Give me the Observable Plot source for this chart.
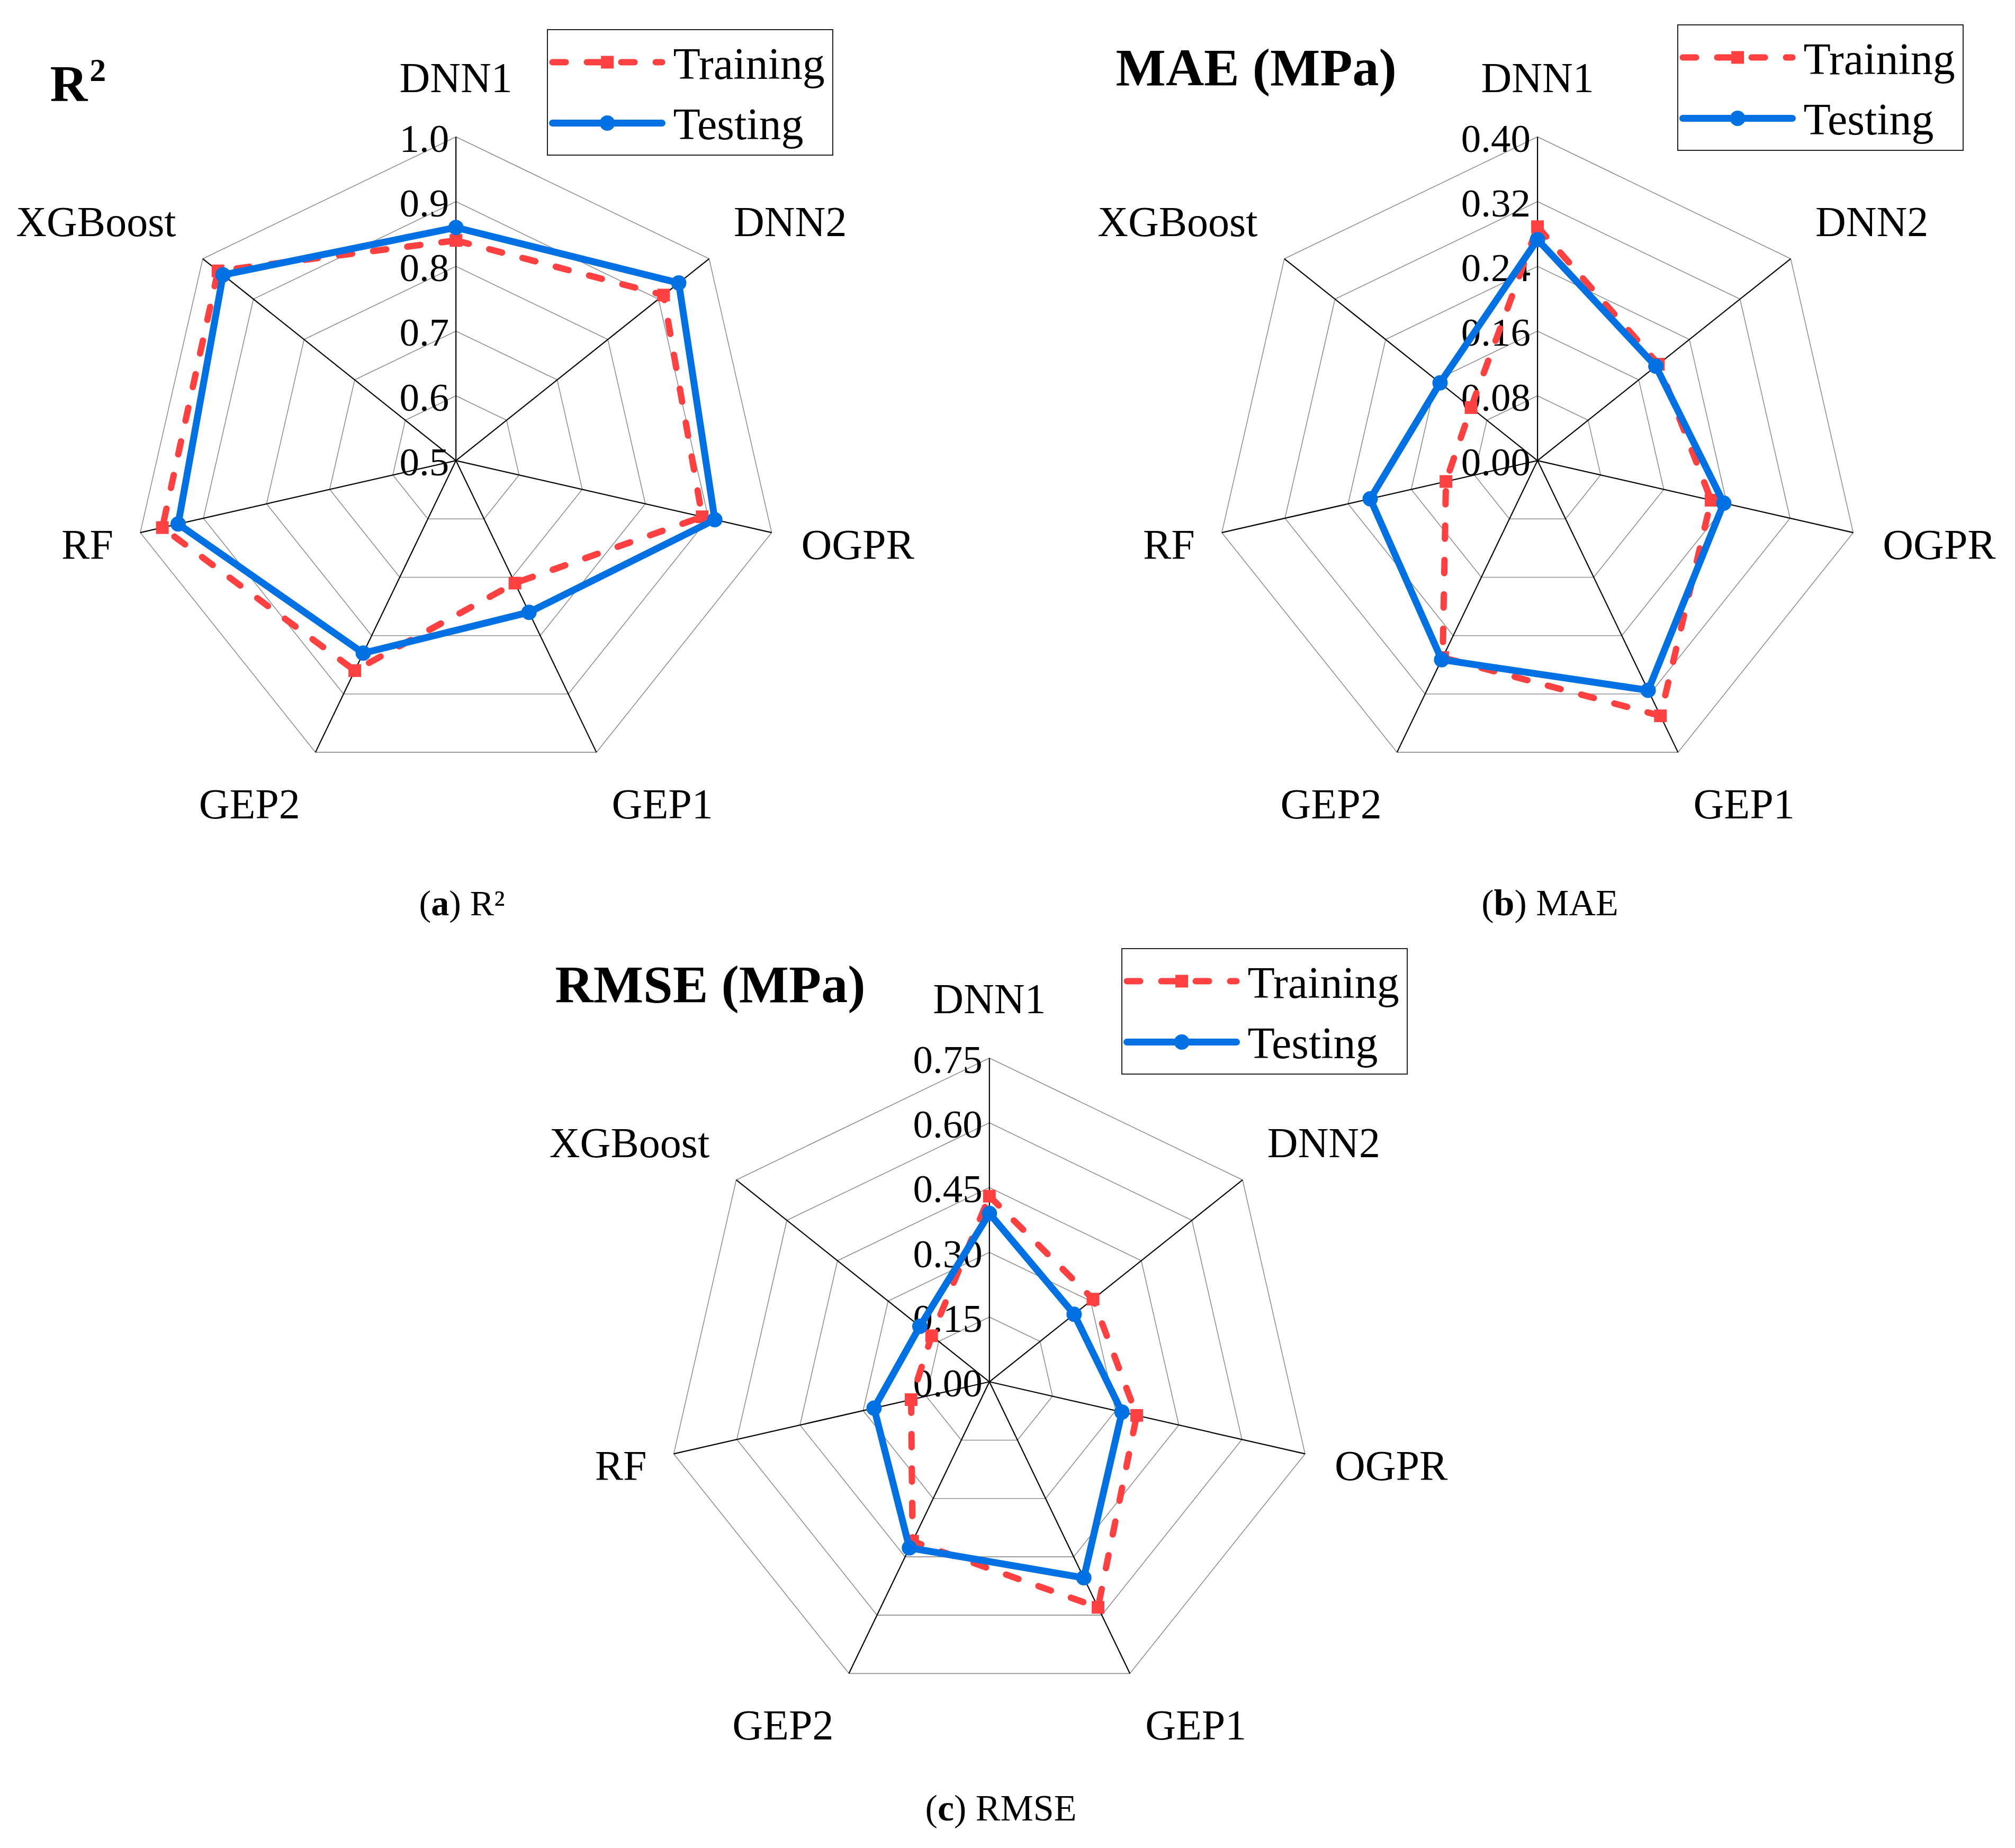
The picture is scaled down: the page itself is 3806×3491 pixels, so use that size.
<!DOCTYPE html>
<html>
<head>
<meta charset="utf-8">
<script src="https://cdn.jsdelivr.net/npm/d3@7"></script>
<script src="https://cdn.jsdelivr.net/npm/@observablehq/plot@0.6"></script>
<style>
  html, body { margin: 0; padding: 0; background: #ffffff; }
  #chart svg { display: block; }
</style>
</head>
<body>
<div id="chart"></div>
<script>
// ---------------- data ----------------
const categories = ["DNN1", "DNN2", "OGPR", "GEP1", "GEP2", "RF", "XGBoost"];
const seriesNames = ["Training", "Testing"];

const r2Training = [0.84, 0.91, 0.89, 0.71, 0.86, 0.965, 0.97];
const r2Testing  = [0.86, 0.94, 0.91, 0.76, 0.83, 0.94, 0.96];
const r2Ticks    = [0.5, 0.6, 0.7, 0.8, 0.9, 1.0];

const maeTraining = [0.289, 0.191, 0.22, 0.35, 0.27, 0.116, 0.105];
const maeTesting  = [0.273, 0.187, 0.236, 0.315, 0.273, 0.212, 0.154];
const maeTicks    = [0.00, 0.08, 0.16, 0.24, 0.32, 0.40];

const rmseTraining = [0.43, 0.307, 0.35, 0.58, 0.41, 0.186, 0.171];
const rmseTesting  = [0.39, 0.251, 0.315, 0.504, 0.427, 0.274, 0.206];
const rmseTicks    = [0.00, 0.15, 0.30, 0.45, 0.60, 0.75];

const panelTitles   = ["R²", "MAE (MPa)", "RMSE (MPa)"];
const panelLetters  = ["a", "b", "c"];
const panelCaptions = [" R²", " MAE", " RMSE"];

// ---------------- layout ----------------
const W = 3806, H = 3491, R = 611.6;
const FONT = "'Liberation Serif', 'Times New Roman', serif";
const RED = "#ff4040", BLUE = "#0071e3";

const layout = [
  {cx: 860.7,  cy: 869.6,  title: [94, 190],   titleSize: 98,  legend: [1034, 56],  caption: [872, 1728],  capSize: 68, digits: 1},
  {cx: 2903.6, cy: 869.6,  title: [2107, 160], titleSize: 100, legend: [3169, 47],  caption: [2927, 1728], capSize: 70, digits: 2},
  {cx: 1868.3, cy: 2609.8, title: [1048, 1892],titleSize: 100, legend: [2119, 1792],caption: [1890, 3438], capSize: 70, digits: 2}
];
const panelData = [
  {training: r2Training, testing: r2Testing, ticks: r2Ticks},
  {training: maeTraining, testing: maeTesting, ticks: maeTicks},
  {training: rmseTraining, testing: rmseTesting, ticks: rmseTicks}
];

const ctx = document.createElement("canvas").getContext("2d");
ctx.font = `80px 'Liberation Serif'`;
const measure = t => ctx.measureText(t).width;

const TAU = 2 * Math.PI, N = categories.length;
const rings = [], spokes = [], tickLabels = [], catLabels = [];
const trainPts = [], testPts = [], titles = [], captions = [];
const legBoxes = [], legTrain = [], legTest = [], legTrainMk = [], legTestMk = [], legTexts = [];

panelData.forEach((p, pi) => {
  const L = layout[pi];
  const rScale = d3.scaleLinear().domain([p.ticks[0], p.ticks[p.ticks.length - 1]]).range([0, R]);
  const pos = (k, v) => {
    const a = k * TAU / N, r = rScale(v);
    return {x: L.cx + r * Math.sin(a), y: L.cy - r * Math.cos(a)};
  };
  p.ticks.forEach((t, i) => {
    if (i > 0) categories.forEach((c, k) => rings.push({ring: `${pi}-${i}`, ...pos(k, t)}));
    tickLabels.push({text: t.toFixed(L.digits), x: L.cx - 13, y: pos(0, t).y + 4});
  });
  categories.forEach((c, k) => {
    const e = pos(k, p.ticks[p.ticks.length - 1]);
    spokes.push({x1: L.cx, y1: L.cy, x2: e.x, y2: e.y});
    const a = k * TAU / N, ux = Math.sin(a), uy = -Math.cos(a);
    const hw = measure(c) / 2;
    catLabels.push({
      text: c,
      x: e.x + ux * 48 + (Math.abs(ux) > 0.01 ? Math.sign(ux) * hw * 1.086 : 0),
      y: e.y + uy * 110
    });
    trainPts.push({key: `${pi}-train`, series: seriesNames[0], cat: c, value: p.training[k], ...pos(k, p.training[k])});
    testPts.push({key: `${pi}-test`, series: seriesNames[1], cat: c, value: p.testing[k], ...pos(k, p.testing[k])});
  });
  titles.push({text: panelTitles[pi], x: L.title[0], y: L.title[1], size: L.titleSize});
  captions.push({text: `(${panelLetters[pi]})${panelCaptions[pi]}`, x: L.caption[0], y: L.caption[1], size: L.capSize});
  const [bx, by] = L.legend;
  legBoxes.push({x1: bx, x2: bx + 539, y1: by, y2: by + 237});
  legTrain.push({key: pi, x: bx + 9, y: by + 61}, {key: pi, x: bx + 216, y: by + 61});
  legTest.push({key: pi, x: bx + 9, y: by + 176}, {key: pi, x: bx + 216, y: by + 176});
  legTrainMk.push({x: bx + 112.6, y: by + 61});
  legTestMk.push({x: bx + 112.6, y: by + 176});
  legTexts.push({text: seriesNames[0], x: bx + 237, y: by + 92});
  legTexts.push({text: seriesNames[1], x: bx + 237, y: by + 206});
});

const chart = Plot.plot({
  width: W,
  height: H,
  margin: 0,
  x: {domain: [0, W], range: [0, W], axis: null},
  y: {domain: [0, H], range: [0, H], axis: null},
  style: {background: "#ffffff", fontFamily: FONT, color: "#000"},
  marks: [
    Plot.line(rings, {x: "x", y: "y", z: "ring", curve: "linear-closed", stroke: "#8f8f8f", strokeWidth: 1.6}),
    Plot.link(spokes, {x1: "x1", y1: "y1", x2: "x2", y2: "y2", stroke: "#000", strokeWidth: 2.2}),
    Plot.text(tickLabels, {x: "x", y: "y", text: "text", textAnchor: "end", lineAnchor: "middle", fontSize: 75, fontFamily: FONT, fill: "#000"}),
    Plot.text(catLabels, {x: "x", y: "y", text: "text", textAnchor: "middle", lineAnchor: "middle", fontSize: 80, fontFamily: FONT, fill: "#000"}),
    Plot.line(trainPts, {x: "x", y: "y", z: "key", curve: "linear-closed", stroke: RED, strokeWidth: 12, strokeDasharray: "25,40", strokeLinecap: "round", strokeLinejoin: "round"}),
    Plot.dot(trainPts, {x: "x", y: "y", symbol: "square", r: 13.5, fill: RED, stroke: "none"}),
    Plot.line(testPts, {x: "x", y: "y", z: "key", curve: "linear-closed", stroke: BLUE, strokeWidth: 13, strokeLinecap: "round", strokeLinejoin: "round"}),
    Plot.dot(testPts, {x: "x", y: "y", symbol: "circle", r: 14.5, fill: BLUE, stroke: "none"}),
    Plot.text(titles, {x: "x", y: "y", text: "text", textAnchor: "start", lineAnchor: "bottom", fontSize: d => d.size, fontWeight: "bold", fontFamily: FONT, fill: "#000"}),
    Plot.rect(legBoxes, {x1: "x1", x2: "x2", y1: "y1", y2: "y2", fill: "#fff", stroke: "#222", strokeWidth: 2}),
    Plot.line(legTrain, {x: "x", y: "y", z: "key", stroke: RED, strokeWidth: 12, strokeDasharray: "25,40", strokeLinecap: "round"}),
    Plot.dot(legTrainMk, {x: "x", y: "y", symbol: "square", r: 13.5, fill: RED, stroke: "none"}),
    Plot.line(legTest, {x: "x", y: "y", z: "key", stroke: BLUE, strokeWidth: 13, strokeLinecap: "round"}),
    Plot.dot(legTestMk, {x: "x", y: "y", symbol: "circle", r: 14.5, fill: BLUE, stroke: "none"}),
    Plot.text(legTexts, {x: "x", y: "y", text: "text", textAnchor: "start", lineAnchor: "bottom", fontSize: 84, fontFamily: FONT, fill: "#000"}),
    Plot.text(captions, {x: "x", y: "y", text: "text", textAnchor: "middle", lineAnchor: "bottom", fontSize: d => d.size, fontFamily: FONT, fill: "#000"})
  ]
});

document.getElementById("chart").appendChild(chart);

// rich text fix-ups: bold caption letters, real superscript in the R² title
const NS = "http://www.w3.org/2000/svg";
const span = (s, attrs = {}) => {
  const ts = document.createElementNS(NS, "tspan");
  ts.textContent = s;
  for (const [k, v] of Object.entries(attrs)) ts.setAttribute(k, v);
  return ts;
};
chart.querySelectorAll("text").forEach(t => {
  if (t.children.length) return;
  const txt = t.textContent;
  const m = /^\(([abc])\)(.*)$/.exec(txt);
  if (m) {
    t.textContent = "";
    t.appendChild(span("("));
    t.appendChild(span(m[1], {"font-weight": "bold"}));
    t.appendChild(span(")" + m[2]));
  } else if (txt === panelTitles[0]) {
    t.textContent = "";
    t.appendChild(span("R"));
    t.appendChild(span("2", {"font-size": "62", "dy": "-38", "dx": "4"}));
  }
});
</script>
</body>
</html>
